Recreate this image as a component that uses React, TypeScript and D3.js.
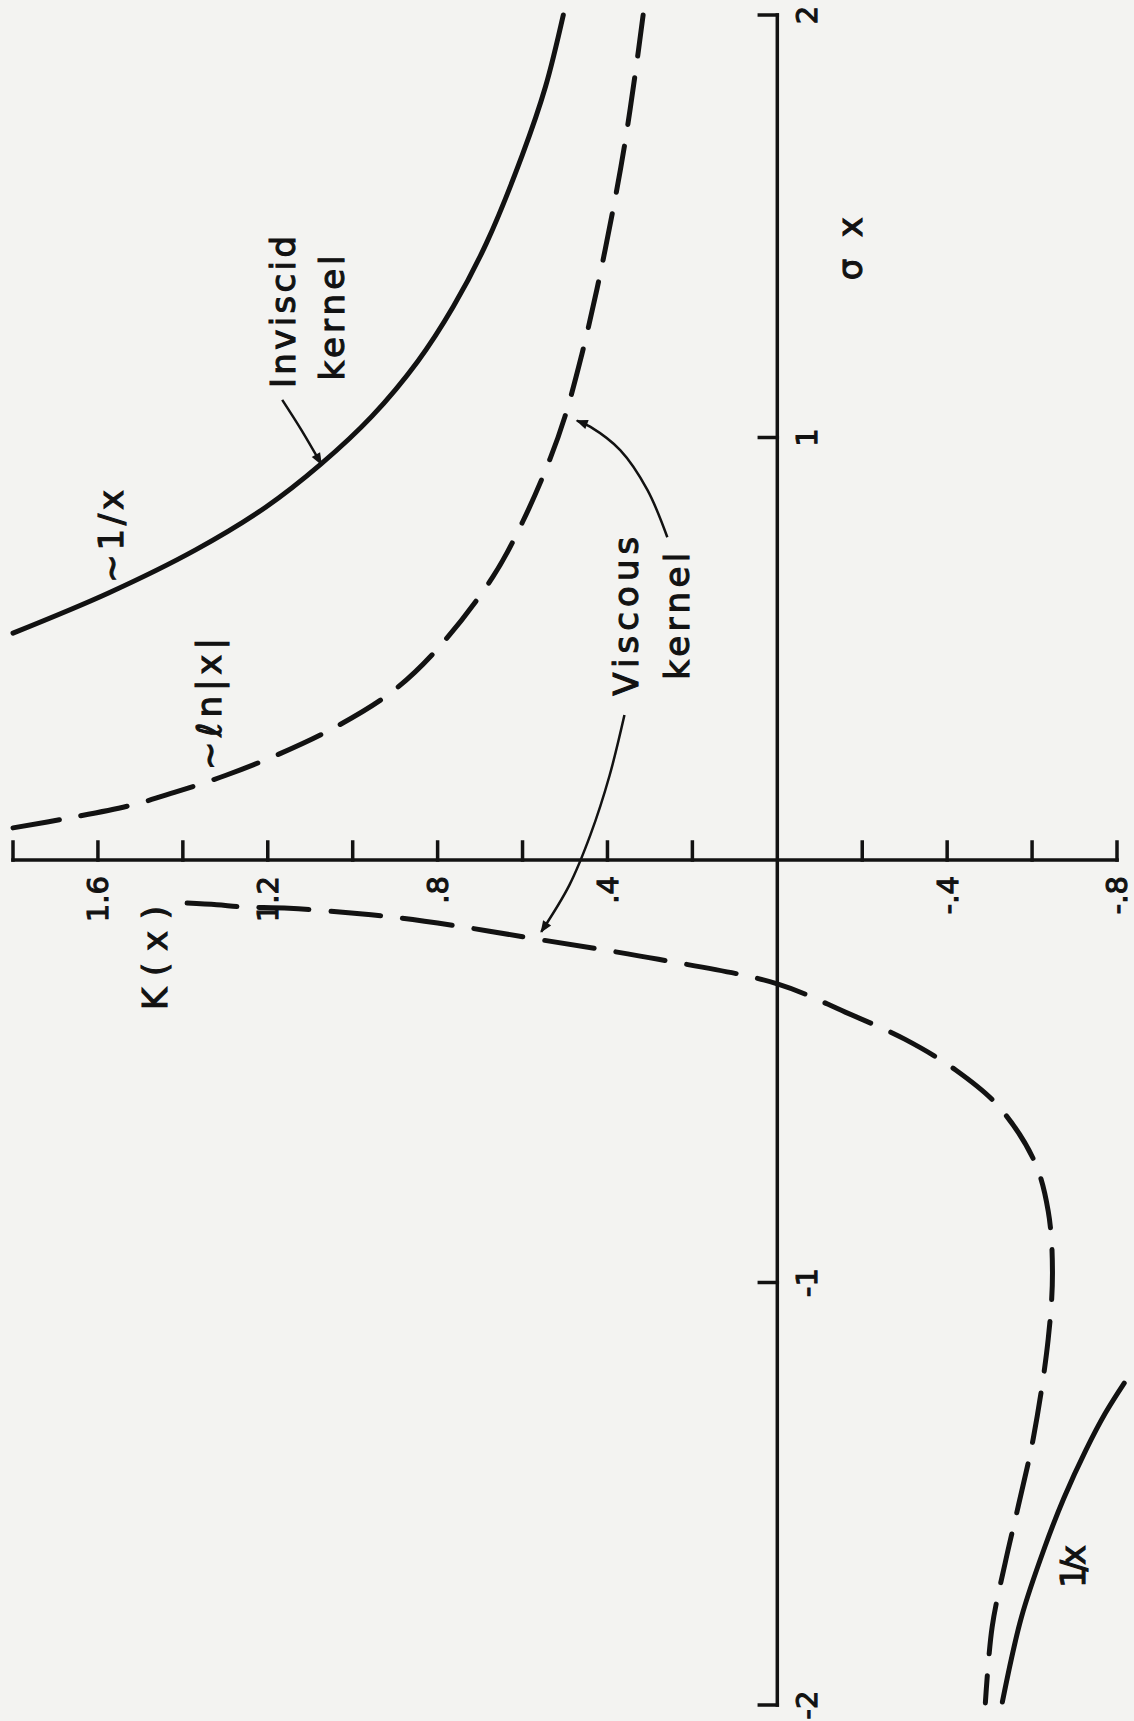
import * as d3 from "d3";

// The figure is printed sideways: K(x) runs left→right (decreasing), σx runs top→bottom (decreasing).
const width = 1134;
const height = 1721;

// axis ticks
const kTicks = [1.8, 1.6, 1.4, 1.2, 1.0, 0.8, 0.6, 0.4, 0.2, -0.2, -0.4, -0.6, -0.8];
const kTickLabelValues = [1.6, 1.2, 0.8, 0.4, -0.4, -0.8];
const kTickLabels = ["1.6", "1.2", ".8", ".4", "-.4", "-.8"];
const sigmaTicks = [2, 1, -1, -2];
const sigmaTickLabels = ["2", "1", "-1", "-2"];

// inviscid kernel ~1/x, positive side
const inviscidPosSigma = [0.537, 0.632, 0.734, 0.835, 0.937, 1.05, 1.18, 1.31, 1.46, 1.67, 1.83, 2.0];
const inviscidPosK = [1.8, 1.575, 1.37, 1.205, 1.075, 0.955, 0.847, 0.763, 0.685, 0.6, 0.546, 0.504];

// inviscid kernel 1/x, negative side
const inviscidNegSigma = [-1.238, -1.31, -1.396, -1.51, -1.626, -1.792, -1.993];
const inviscidNegK = [-0.817, -0.772, -0.727, -0.675, -0.63, -0.575, -0.53];

// viscous kernel ~ln|x|, positive side
const viscousPosSigma = [0.076, 0.1, 0.13, 0.16, 0.2, 0.25, 0.315, 0.4, 0.5, 0.67, 0.8, 0.95, 1.05, 1.19, 1.35, 1.56, 1.69, 1.865, 2.0];
const viscousPosK = [1.8, 1.665, 1.52, 1.42, 1.3, 1.175, 1.04, 0.905, 0.8, 0.67, 0.6, 0.535, 0.5, 0.462, 0.425, 0.383, 0.36, 0.334, 0.316];

// viscous kernel, negative side
const viscousNegSigma = [-0.102, -0.106, -0.111, -0.114, -0.125, -0.137, -0.16, -0.185, -0.235, -0.293, -0.36, -0.424, -0.497, -0.582, -0.712, -0.831, -0.975, -1.134, -1.368, -1.527, -1.662, -1.815, -1.995];
const viscousNegK = [1.39, 1.32, 1.26, 1.15, 1.01, 0.89, 0.73, 0.58, 0.28, 0.0, -0.16, -0.3, -0.42, -0.52, -0.605, -0.638, -0.648, -0.638, -0.603, -0.568, -0.537, -0.506, -0.49];

// annotation arrows, as [sigma, K]
const inviscidArrow: [number, number][] = [[1.089, 1.166], [1.018, 1.121], [0.937, 1.074]];
const viscousUpArrow: [number, number][] = [[0.764, 0.259], [0.876, 0.306], [0.97, 0.37], [1.025, 0.44], [1.04, 0.472]];
const viscousDownArrow: [number, number][] = [[0.343, 0.36], [0.2, 0.395], [0.06, 0.44], [-0.06, 0.49], [-0.17, 0.556]];

const ink = "#121212";
const paper = "#f3f3f1";
const font = "'DejaVu Sans', 'Liberation Sans', sans-serif";

const zip = (s: number[], k: number[]) => s.map((v, i) => [v, k[i]] as [number, number]);

const RotText = ({ x, y, text, size = 34, len, anchor = "middle", dy = "0" }: any) => (
  <text
    transform={`translate(${x},${y}) rotate(-90)`}
    textAnchor={anchor}
    dy={dy}
    fontSize={size}
    fontFamily={font}
    fill={ink}
    stroke={ink}
    strokeWidth={1.1}
    textLength={len}
    lengthAdjust={len ? "spacing" : undefined}
  >
    {text}
  </text>
);

export default function App() {
  const xK = d3.scaleLinear().domain([-0.8, 1.8]).range([1117, 13]);
  const yS = d3.scaleLinear().domain([-2, 2]).range([1705, 15]);

  const line = d3
    .line<[number, number]>()
    .x((d) => xK(d[1]))
    .y((d) => yS(d[0]))
    .curve(d3.curveCatmullRom.alpha(0.5));

  const x0 = xK(0);
  const y0 = yS(0);
  const tick = 18;

  return (
    <svg
      width={width}
      height={height}
      style={{ position: "absolute", left: 0, top: 0, display: "block", background: paper }}
    >
      <defs>
        <marker id="ah" viewBox="0 0 10 10" refX="9" refY="5" markerWidth="16" markerHeight="12" markerUnits="userSpaceOnUse" orient="auto">
          <path d="M0,1 L10,5 L0,9 Z" fill={ink} />
        </marker>
      </defs>

      {/* axes */}
      <g stroke={ink} strokeWidth={3.5} strokeLinecap="square">
        <line x1={xK(1.8)} x2={xK(-0.8)} y1={y0} y2={y0} />
        <line x1={x0} x2={x0} y1={yS(2)} y2={yS(-2)} />
        {kTicks.map((v) => (
          <line key={"k" + v} x1={xK(v)} x2={xK(v)} y1={y0} y2={y0 - tick} />
        ))}
        {sigmaTicks.map((v) => (
          <line key={"s" + v} x1={x0} x2={x0 - tick} y1={yS(v)} y2={yS(v)} />
        ))}
      </g>

      {kTickLabelValues.map((v, i) => (
        <RotText key={"kl" + v} x={xK(v)} y={y0 + 16} text={kTickLabels[i]} size={29} anchor="end" dy="0.36em" />
      ))}
      {sigmaTicks.map((v, i) => (
        <RotText key={"sl" + v} x={x0 + 29} y={yS(v)} text={sigmaTickLabels[i]} size={29} dy="0.36em" />
      ))}

      {/* curves */}
      <g fill="none" stroke={ink} strokeWidth={5} strokeLinecap="round" strokeLinejoin="round">
        <path d={line(zip(inviscidPosSigma, inviscidPosK)) || ""} />
        <path d={line(zip(inviscidNegSigma, inviscidNegK)) || ""} />
        <path d={line(zip(viscousPosSigma, viscousPosK)) || ""} strokeDasharray="47 22" />
        <path d={line(zip(viscousNegSigma, viscousNegK)) || ""} strokeDasharray="50 22" />
      </g>

      {/* arrows */}
      <g fill="none" stroke={ink} strokeWidth={2.5}>
        <path d={line(inviscidArrow) || ""} markerEnd="url(#ah)" />
        <path d={line(viscousUpArrow) || ""} markerEnd="url(#ah)" />
        <path d={line(viscousDownArrow) || ""} markerEnd="url(#ah)" />
      </g>

      {/* labels */}
      <RotText x={xK(1.136)} y={yS(1.297)} text="Inviscid" len={152} />
      <RotText x={xK(1.02)} y={yS(1.283)} text="kernel" len={125} />
      <RotText x={xK(1.541)} y={yS(0.766)} text="~1/x" len={93} />
      <RotText x={xK(1.309)} y={yS(0.369)} text="~ℓn|x|" len={132} />
      <RotText x={xK(0.328)} y={yS(0.577)} text="Viscous" len={159} />
      <RotText x={xK(0.208)} y={yS(0.577)} text="kernel" len={127} />
      <RotText x={xK(1.437)} y={yS(-0.232)} text="K(x)" len={104} />
      <RotText x={xK(-0.199)} y={yS(1.447)} text="σ x" len={63} />
      <RotText x={xK(-0.725)} y={yS(-1.672)} text="1/x" len={43} />
    </svg>
  );
}
